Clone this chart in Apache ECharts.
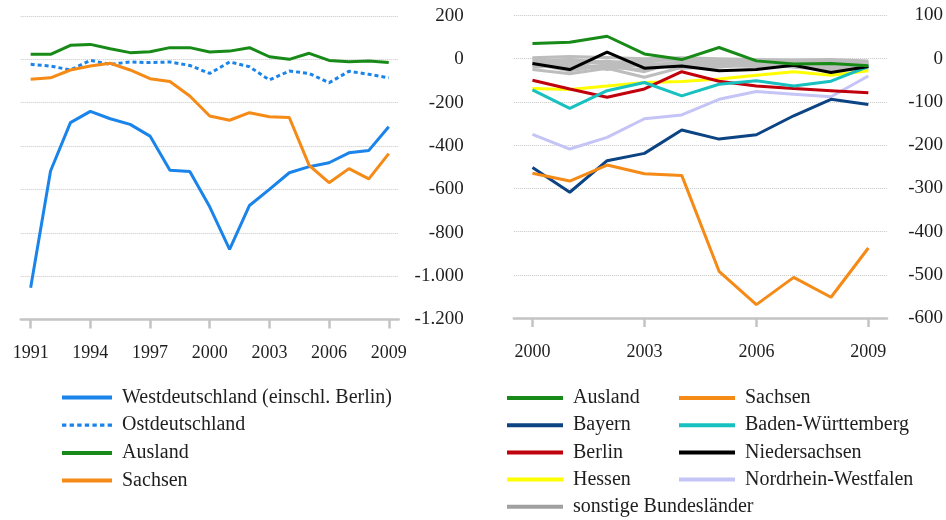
<!DOCTYPE html>
<html>
<head>
<meta charset="utf-8">
<script src="https://cdn.jsdelivr.net/npm/echarts@6/dist/echarts.min.js"></script>
<style>
  html, body { margin: 0; padding: 0; background: #fff; }
  #chart { width: 946px; height: 520px; }
</style>
</head>
<body>
<div id="chart"></div>
<script>
// linke Grafik: 1991-2009
const yearsLeft = ['1991', '1992', '1993', '1994', '1995', '1996', '1997', '1998', '1999', '2000',
  '2001', '2002', '2003', '2004', '2005', '2006', '2007', '2008', '2009']
const westdeutschland = [-1054, -515, -292, -240, -274, -300, -354, -511, -517, -680,
  -877, -674, -600, -523, -495, -477, -431, -420, -311]
const ostdeutschland = [-23, -31, -49, -5, -23, -12, -15, -12, -28, -65,
  -12, -34, -95, -54, -65, -108, -55, -69, -85]
const auslandLeft = [23, 23, 65, 69, 49, 31, 35, 54, 54, 34,
  38, 54, 12, 0, 28, -5, -11, -8, -15]
const sachsenLeft = [-92, -85, -49, -31, -18, -49, -89, -102, -169, -261,
  -281, -246, -265, -268, -489, -569, -504, -551, -435]

// rechte Grafik: 2000-2009
const yearsRight = ['2000', '2001', '2002', '2003', '2004', '2005', '2006', '2007', '2008', '2009']
const auslandRight = [35, 38, 52, 11, -2, 26, -5, -12, -11, -16]
const sachsenRight = [-265, -283, -246, -266, -270, -492, -569, -506, -552, -438]
const bayern = [-252, -309, -236, -219, -165, -186, -176, -132, -94, -106]
const berlin = [-50, -70, -89, -70, -30, -52, -63, -69, -74, -79]
const hessen = [-69, -71, -63, -55, -53, -47, -38, -30, -38, -28]
const badenWuerttemberg = [-72, -115, -74, -55, -86, -59, -51, -63, -52, -18]
const niedersachsen = [-11, -25, 15, -22, -17, -28, -25, -15, -32, -18]
const nordrheinWestfalen = [-175, -209, -182, -139, -130, -94, -76, -82, -88, -40]
// sonstige Bundesländer
const brandenburg = [2, 5, 3, 0, 2, 0, -2, -3, -2, -5]
const bremen = [-5, -2, -8, -5, -3, -5, -6, -5, -5, -8]
const hamburg = [-10, -6, -12, -15, -8, -3, -5, -8, -10, -12]
const mecklenburgVorpommern = [-15, -12, -5, -18, -12, -10, -8, -10, -12, -15]
const rheinlandPfalz = [-20, -15, -20, -25, -10, -12, -12, -14, -14, -18]
const saarland = [-8, -20, -18, -10, -15, -18, -15, -6, -8, -10]
const sachsenAnhalt = [-25, -35, -22, -43, -20, -15, -18, -18, -20, -20]
const schleswigHolstein = [-12, -28, -15, -30, -5, -8, -3, -12, -16, -14]
const thueringen = [0, -8, -25, -12, -22, -20, -10, -20, -25, -22]

const FONT = 'Liberation Serif'
const TEXT = '#1e1e1e'
const AXIS = '#c4c4c4'
// gepunktetes Legendensymbol
const DOTTED = 'path://M0,0h4v3h-4zM7,0h4v3h-4zM14,0h4v3h-4zM21,0h4v3h-4zM28,0h4v3h-4zM35,0h4v3h-4zM42,0h4v3h-4z'

function fmt(v) {
  return String(v).replace(/\B(?=(\d{3})+(?!\d))/g, '.')
}

function xAxis(idx, data) {
  return {
    type: 'category',
    gridIndex: idx,
    data: data,
    boundaryGap: true,
    axisLine: { onZero: false, lineStyle: { color: AXIS, width: 2.5 } },
    axisTick: {
      show: true, interval: 2, alignWithLabel: true, inside: false, length: 9,
      lineStyle: { color: AXIS, width: 2.5 }
    },
    axisLabel: { interval: 2, margin: 25, fontFamily: FONT, fontSize: 18, color: TEXT }
  }
}

function yAxis(idx, min, max, step, margin) {
  return {
    type: 'value',
    gridIndex: idx,
    position: 'right',
    min: min,
    max: max,
    interval: step,
    axisLine: { show: false },
    axisTick: { show: false },
    splitLine: { lineStyle: { type: 'dotted', color: '#c6c6c6', width: 1 } },
    axisLabel: {
      align: 'right', margin: margin, fontFamily: FONT, fontSize: 19, color: TEXT,
      formatter: fmt
    }
  }
}

function line(name, data, color, grid, extra) {
  return Object.assign({
    name: name,
    type: 'line',
    xAxisIndex: grid,
    yAxisIndex: grid,
    data: data,
    symbol: 'none',
    silent: true,
    lineStyle: { color: color, width: 3 },
    itemStyle: { color: color }
  }, extra || {})
}

const grey = [brandenburg, bremen, hamburg, mecklenburgVorpommern, rheinlandPfalz,
  saarland, sachsenAnhalt, schleswigHolstein, thueringen]

const series = [
  line('Westdeutschland (einschl. Berlin)', westdeutschland, '#1a84ea', 0),
  line('Ostdeutschland', ostdeutschland, '#1a84ea', 0, {
    lineStyle: { color: '#1a84ea', width: 3, type: [4, 3] }
  }),
  line('Ausland', auslandLeft, '#178a17', 0),
  line('Sachsen', sachsenLeft, '#f58a16', 0)
]
grey.forEach((d) => {
  series.push(line('sonstige Bundesländer', d, '#bdbdbd', 1))
})
series.push(
  line('Hessen', hessen, '#ffff00', 1),
  line('Nordrhein-Westfalen', nordrheinWestfalen, '#c4c4f6', 1),
  line('Berlin', berlin, '#c0000c', 1),
  line('Baden-Württemberg', badenWuerttemberg, '#18c0c0', 1),
  line('Bayern', bayern, '#0c4383', 1),
  line('Niedersachsen', niedersachsen, '#000000', 1),
  line('Ausland', auslandRight, '#178a17', 1),
  line('Sachsen', sachsenRight, '#f58a16', 1)
)

const legendBase = {
  orient: 'vertical',
  icon: 'rect',
  itemHeight: 4,
  padding: 0,
  selectedMode: false,
  textStyle: { fontFamily: FONT, fontSize: 20, color: TEXT, padding: [0, 0, 0, 5], lineHeight: 20 }
}

const myChart = echarts.init(document.getElementById('chart'))
myChart.setOption({
  animation: false,
  grid: [
    { left: 20.7, top: 16, width: 378, height: 303.5 },
    { left: 513.8, top: 15.5, width: 378.5, height: 302.5 }
  ],
  xAxis: [xAxis(0, yearsLeft), xAxis(1, yearsRight)],
  yAxis: [yAxis(0, -1200, 200, 200, 65), yAxis(1, -600, 100, 100, 56)],
  legend: [
    Object.assign({}, legendBase, {
      left: 62, top: 387.5, itemWidth: 50, itemGap: 7.7,
      data: ['Westdeutschland (einschl. Berlin)', { name: 'Ostdeutschland', icon: DOTTED }, 'Ausland', 'Sachsen']
    }),
    Object.assign({}, legendBase, {
      left: 507, top: 388, itemWidth: 56, itemGap: 7.2,
      data: ['Ausland', 'Bayern', 'Berlin', 'Hessen',
        { name: 'sonstige Bundesländer', itemStyle: { color: '#a0a0a0' } }]
    }),
    Object.assign({}, legendBase, {
      left: 679, top: 388, itemWidth: 56, itemGap: 7.2,
      data: ['Sachsen', 'Baden-Württemberg', 'Niedersachsen', 'Nordrhein-Westfalen']
    })
  ],
  series: series
})
window.addEventListener('resize', () => {
  myChart.resize()
})
</script>
</body>
</html>
